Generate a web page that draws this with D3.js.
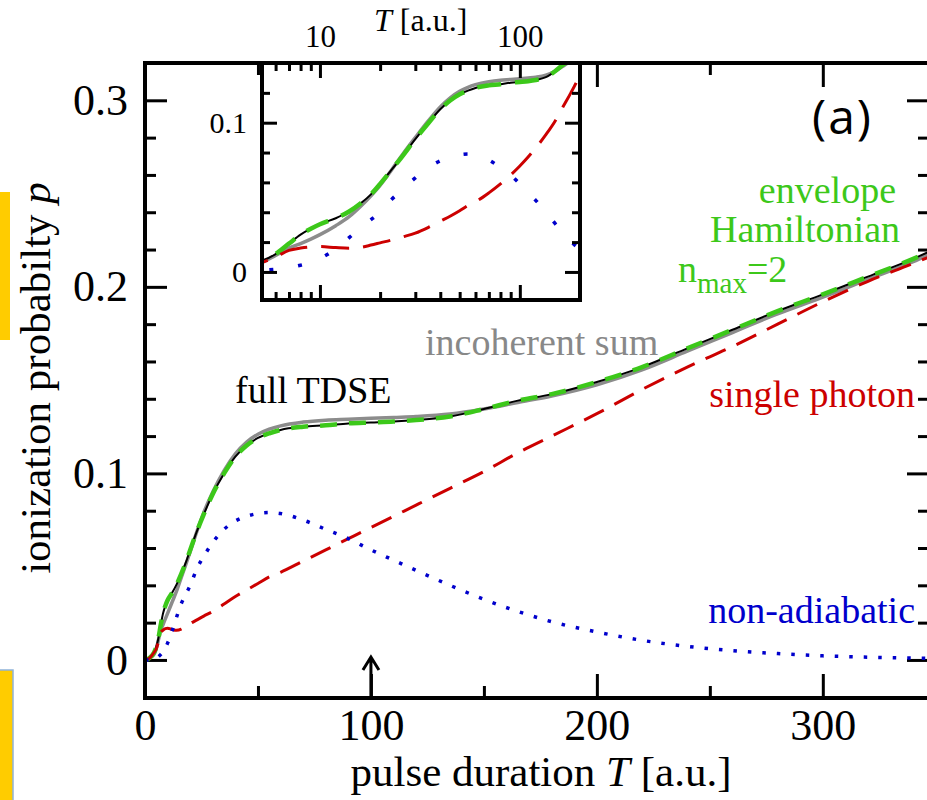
<!DOCTYPE html>
<html><head><meta charset="utf-8">
<script src="https://cdn.jsdelivr.net/npm/d3@7"></script>
<style>body{margin:0;background:#fff} svg{display:block}</style>
</head><body>
<svg id="c" width="927" height="800"></svg>
<script>
// ---- data ----
const T = [0, 2, 4, 5, 6, 7, 8, 9, 10, 12, 14, 16, 18, 20, 23, 26, 30, 35, 40, 45, 50, 55, 60,
  70, 80, 90, 100, 110, 120, 135, 150, 165, 180, 200, 220, 240, 260, 280, 300, 320, 340, 350];
const fullTDSE = [0, 0.001, 0.004, 0.007, 0.012, 0.019, 0.025, 0.029, 0.032, 0.036, 0.0405, 0.046, 0.052, 0.059,
  0.069, 0.078, 0.089, 0.100, 0.109, 0.115, 0.119, 0.1215, 0.1233,
  0.125, 0.1258, 0.1268, 0.1273, 0.1278, 0.1286, 0.1305, 0.1345, 0.139, 0.1425,
  0.149, 0.157, 0.167, 0.177, 0.187, 0.196, 0.2055, 0.215, 0.2205];
const envelopeH = [0, 0.001, 0.004, 0.007, 0.012, 0.019, 0.025, 0.029, 0.032, 0.036, 0.0405, 0.046, 0.052, 0.059,
  0.069, 0.078, 0.089, 0.100, 0.109, 0.115, 0.119, 0.1215, 0.1233,
  0.125, 0.1258, 0.1268, 0.1273, 0.1278, 0.1286, 0.1305, 0.1345, 0.139, 0.1425,
  0.149, 0.157, 0.167, 0.177, 0.187, 0.196, 0.2055, 0.215, 0.2205];
const incoherentSum = [0, 0.001, 0.003, 0.006, 0.011, 0.016, 0.019, 0.022, 0.025, 0.031, 0.037, 0.044, 0.051, 0.058,
  0.069, 0.079, 0.090, 0.1015, 0.1105, 0.1168, 0.121, 0.1237, 0.1255,
  0.1275, 0.1285, 0.129, 0.1295, 0.130, 0.1305, 0.1318, 0.1345, 0.138, 0.1415,
  0.1475, 0.1555, 0.1655, 0.1755, 0.1855, 0.1945, 0.204, 0.2135, 0.219];
const singlePhoton = [0, 0.001, 0.004, 0.006, 0.010, 0.0145, 0.016, 0.0168, 0.017, 0.0163, 0.0159, 0.0165, 0.018, 0.0195,
  0.0215, 0.0235, 0.026, 0.030, 0.034, 0.0375, 0.041, 0.0445, 0.047,
  0.053, 0.059, 0.065, 0.071, 0.077, 0.083, 0.092, 0.101, 0.111, 0.120,
  0.132, 0.145, 0.157, 0.168, 0.180, 0.192, 0.203, 0.2125, 0.2175];
const nonAdiabatic = [0, 0, 0.0005, 0.001, 0.0018, 0.003, 0.0045, 0.0065, 0.009, 0.0155, 0.023, 0.030, 0.035, 0.040,
  0.049, 0.0555, 0.063, 0.070, 0.0745, 0.077, 0.0785, 0.079, 0.0785,
  0.075, 0.070, 0.065, 0.059, 0.0535, 0.048, 0.040, 0.0325, 0.026, 0.0205,
  0.015, 0.0105, 0.0073, 0.005, 0.0034, 0.0022, 0.0015, 0.001, 0.0008];

const xMajor = [0, 100, 200, 300];
const xMinor = [50, 150, 250];
const yMajor = [0, 0.1, 0.2, 0.3];
const yMinor = [0.02, 0.04, 0.06, 0.08, 0.12, 0.14, 0.16, 0.18, 0.22, 0.24, 0.26, 0.28];
const yLabels = ["0", "0.1", "0.2", "0.3"];
const xLabels = ["0", "100", "200", "300"];
const insetXMajor = [10, 100];
const insetXMinor = [6, 7, 8, 9, 20, 30, 40, 50, 60, 70, 80, 90, 200];
const insetXLabels = ["10", "100"];
const insetYMajor = [0, 0.1];
const insetYMinor = [0.02, 0.04, 0.06, 0.08, 0.12];
const insetYLabels = ["0", "0.1"];

// ---- setup ----
const serif = "'Liberation Serif','Times New Roman',serif";
const C = {black:"#000", gray:"#8c8c8c", green:"#3cc81a", red:"#cc0000", blue:"#0000cc"};
const svg = d3.select("#c");

// slide artefacts at left edge
svg.append("rect").attr("x",0).attr("y",192).attr("width",10).attr("height",148).attr("fill","#ffcc00");
svg.append("rect").attr("x",-2).attr("y",670).attr("width",15).attr("height",140)
  .attr("fill","#ffcc00").attr("stroke","#8fb3d9").attr("stroke-width",1.5);

const M = {l:145, r:929, t:63, b:698};
const x = d3.scaleLinear().domain([0, 347]).range([M.l, M.r]);
const y = d3.scaleLinear().domain([-0.0204, 0.32]).range([M.b, M.t]);

const defs = svg.append("defs");
defs.append("clipPath").attr("id","mainClip").append("rect")
  .attr("x",M.l).attr("y",M.t).attr("width",M.r-M.l).attr("height",M.b-M.t);

const pts = s => T.map((t,i)=>[t, s[i]]);
const series = [
  {d:incoherentSum, c:C.gray, w:3.5, dash:null, dashI:null},
  {d:fullTDSE, c:C.black, w:2, dash:null, dashI:null},
  {d:envelopeH, c:C.green, w:4.5, dash:"17,12", dashI:"24,14"},
  {d:singlePhoton, c:C.red, w:3, dash:"22,12", dashI:"28,14"},
  {d:nonAdiabatic, c:C.blue, w:3.5, dash:"3.5,11", dashI:"4,25"}
];

function styleAxis(g, sw, fs){
  g.select(".domain").remove();
  g.selectAll(".tick line").attr("stroke","#000").attr("stroke-width",sw);
  g.attr("font-family", serif).attr("font-size", fs);
  g.selectAll(".tick text").attr("fill","#000");
}

// main ticks
const gAx = svg.append("g");
gAx.append("g").attr("transform",`translate(${M.l},0)`)
  .call(d3.axisLeft(y).tickValues(yMajor).tickSize(-22).tickPadding(17).tickFormat((d,i)=>yLabels[i]))
  .call(g=>styleAxis(g,3,44));
gAx.append("g").attr("transform",`translate(${M.l},0)`)
  .call(d3.axisLeft(y).tickValues(yMinor).tickSize(-11).tickFormat(""))
  .call(g=>styleAxis(g,3,44));
gAx.append("g").attr("transform",`translate(${M.r},0)`)
  .call(d3.axisRight(y).tickValues(yMajor).tickSize(-22).tickFormat(""))
  .call(g=>styleAxis(g,3,44));
gAx.append("g").attr("transform",`translate(${M.r},0)`)
  .call(d3.axisRight(y).tickValues(yMinor).tickSize(-11).tickFormat(""))
  .call(g=>styleAxis(g,3,44));
gAx.append("g").attr("transform",`translate(0,${M.b})`)
  .call(d3.axisBottom(x).tickValues(xMajor).tickSize(-24).tickPadding(11).tickFormat((d,i)=>xLabels[i]))
  .call(g=>styleAxis(g,3,44));
gAx.append("g").attr("transform",`translate(0,${M.b})`)
  .call(d3.axisBottom(x).tickValues(xMinor).tickSize(-12).tickFormat(""))
  .call(g=>styleAxis(g,3,44));
gAx.append("g").attr("transform",`translate(0,${M.t})`)
  .call(d3.axisTop(x).tickValues(xMajor).tickSize(-24).tickFormat(""))
  .call(g=>styleAxis(g,3,44));
gAx.append("g").attr("transform",`translate(0,${M.t})`)
  .call(d3.axisTop(x).tickValues(xMinor).tickSize(-12).tickFormat(""))
  .call(g=>styleAxis(g,3,44));

// main curves
const line = d3.line().x(d=>x(d[0])).y(d=>y(d[1])).curve(d3.curveMonotoneX);
const gMain = svg.append("g").attr("clip-path","url(#mainClip)");
series.forEach(s=>{
  gMain.append("path").attr("d", line(pts(s.d))).attr("fill","none")
    .attr("stroke", s.c).attr("stroke-width", s.w)
    .attr("stroke-dasharray", s.dash).attr("stroke-linejoin","round");
});

// arrow at T = 100
const ax = x(100);
svg.append("path").attr("d",`M${ax},${M.b} V${M.b-41} M${ax-8},${M.b-28} L${ax},${M.b-41} L${ax+8},${M.b-28}`)
  .attr("fill","none").attr("stroke","#000").attr("stroke-width",3);

// main frame
svg.append("path").attr("d",`M${M.r+2},${M.t} H${M.l} V${M.b} H${M.r+2}`)
  .attr("fill","none").attr("stroke","#000").attr("stroke-width",4);

// ---- inset ----
const I = {l:262, r:580, t:63, b:300};
const xi = d3.scaleLog().domain([5.13, 200]).range([I.l, I.r]);
const yi = d3.scaleLinear().domain([-0.0188, 0.140]).range([I.b, I.t]);
defs.append("clipPath").attr("id","insetClip").append("rect")
  .attr("x",I.l).attr("y",I.t).attr("width",I.r-I.l).attr("height",I.b-I.t);
svg.append("rect").attr("x",I.l).attr("y",I.t).attr("width",I.r-I.l).attr("height",I.b-I.t).attr("fill","#fff");

const lineI = d3.line().x(d=>xi(d[0])).y(d=>yi(d[1])).curve(d3.curveMonotoneX);
const gIn = svg.append("g").attr("clip-path","url(#insetClip)");
series.forEach(s=>{
  gIn.append("path").attr("d", lineI(pts(s.d).filter(p=>p[0]>=4))).attr("fill","none")
    .attr("stroke", s.c).attr("stroke-width", s.w)
    .attr("stroke-dasharray", s.dashI).attr("stroke-linejoin","round");
});

const gIa = svg.append("g");
gIa.append("g").attr("transform",`translate(0,${I.b})`)
  .call(d3.axisBottom(xi).tickValues(insetXMajor).tickSize(-15).tickFormat(""))
  .call(g=>styleAxis(g,3,30));
gIa.append("g").attr("transform",`translate(0,${I.b})`)
  .call(d3.axisBottom(xi).tickValues(insetXMinor).tickSize(-8).tickFormat(""))
  .call(g=>styleAxis(g,3,30));
gIa.append("g").attr("transform",`translate(0,${I.t})`)
  .call(d3.axisTop(xi).tickValues(insetXMajor).tickSize(-15).tickPadding(16).tickFormat((d,i)=>insetXLabels[i]))
  .call(g=>styleAxis(g,3,31));
gIa.append("g").attr("transform",`translate(0,${I.t})`)
  .call(d3.axisTop(xi).tickValues(insetXMinor).tickSize(-8).tickFormat(""))
  .call(g=>styleAxis(g,3,30));
gIa.append("g").attr("transform",`translate(${I.l},0)`)
  .call(d3.axisLeft(yi).tickValues(insetYMajor).tickSize(-15).tickPadding(15).tickFormat((d,i)=>insetYLabels[i]))
  .call(g=>styleAxis(g,3,30));
gIa.append("g").attr("transform",`translate(${I.l},0)`)
  .call(d3.axisLeft(yi).tickValues(insetYMinor).tickSize(-8).tickFormat(""))
  .call(g=>styleAxis(g,3,30));
gIa.append("g").attr("transform",`translate(${I.r},0)`)
  .call(d3.axisRight(yi).tickValues(insetYMajor).tickSize(-15).tickFormat(""))
  .call(g=>styleAxis(g,3,30));
gIa.append("g").attr("transform",`translate(${I.r},0)`)
  .call(d3.axisRight(yi).tickValues(insetYMinor).tickSize(-8).tickFormat(""))
  .call(g=>styleAxis(g,3,30));
svg.append("rect").attr("x",I.l).attr("y",I.t).attr("width",I.r-I.l).attr("height",I.b-I.t)
  .attr("fill","none").attr("stroke","#000").attr("stroke-width",4);
// top line re-drawn over inset
svg.append("line").attr("x1",M.l-2).attr("x2",M.r+2).attr("y1",M.t).attr("y2",M.t)
  .attr("stroke","#000").attr("stroke-width",4);

// inset axis title
const tI = svg.append("text").attr("x",374).attr("y",31).attr("font-family",serif).attr("font-size",32);
tI.append("tspan").attr("font-style","italic").text("T");
tI.append("tspan").text(" [a.u.]");

// ---- axis titles ----
const xt = svg.append("text").attr("x",541).attr("y",786).attr("text-anchor","middle")
  .attr("font-family",serif).attr("font-size",43);
xt.append("tspan").text("pulse duration ");
xt.append("tspan").attr("font-style","italic").text("T");
xt.append("tspan").text(" [a.u.]");

const yt = svg.append("text").attr("transform","translate(50,378) rotate(-90)").attr("text-anchor","middle")
  .attr("font-family",serif).attr("font-size",43);
yt.append("tspan").text("ionization probabilty ");
yt.append("tspan").attr("font-style","italic").text("p");

// ---- annotations ----
function label(txt, xx, yy, col, anchor){
  return svg.append("text").attr("x",xx).attr("y",yy).attr("fill",col).attr("text-anchor",anchor||"start")
    .attr("font-family",serif).attr("font-size",38).text(txt);
}
label("full TDSE", 235, 403, C.black);
label("incoherent sum", 425, 355, "#888888");
label("envelope", 896, 203, C.green, "end");
label("Hamiltonian", 900, 242, C.green, "end");
const nm = svg.append("text").attr("x",678).attr("y",282).attr("fill",C.green)
  .attr("font-family",serif).attr("font-size",38);
nm.append("tspan").text("n");
nm.append("tspan").attr("font-size",29).attr("dy",11).text("max");
nm.append("tspan").attr("dy",-11).text("=2");
label("single photon", 915, 407, C.red, "end");
label("non-adiabatic", 915, 623, C.blue, "end");

svg.append("text").attr("x",812).attr("y",134).attr("font-family","'Open Sans',Lato,sans-serif")
  .attr("font-size",48).attr("letter-spacing",2).attr("fill","#000").text("(a)");
</script>
</body></html>
